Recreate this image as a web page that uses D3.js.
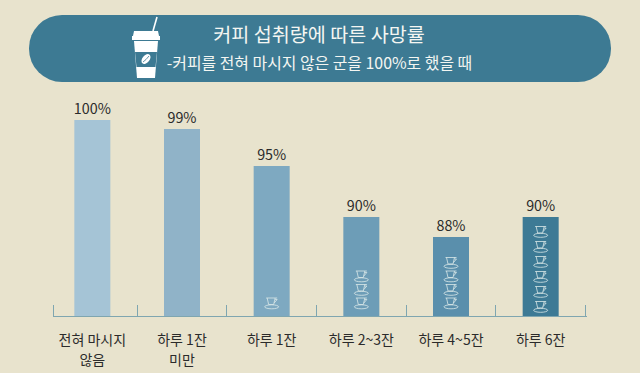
<!DOCTYPE html>
<html>

<head>
    <meta charset="UTF-8">
    <title>coffee</title>
    <script src="https://cdn.jsdelivr.net/npm/d3@7/dist/d3.min.js"></script>
</head>
<style>
    * {
        padding: 0;
        margin: 0;
    }

    body {
        background-color: #e8e3cd;
        overflow: hidden;
    }

    text {
        font-family: "Noto Sans CJK KR", "Noto Sans", sans-serif;
    }
</style>

<body>
    <div id="data-svg"></div>
</body>
<script>
    var categories = [["전혀 마시지", "않음"], ["하루 1잔", "미만"], ["하루 1잔"], ["하루 2~3잔"], ["하루 4~5잔"], ["하루 6잔"]];
    var values = [100, 99, 95, 90, 88, 90];
    var cupCounts = [0, 0, 1, 3, 4, 6];
    var barColors = ["#a5c4d6", "#90b3c8", "#7ea9c1", "#6d9db7", "#5a8fac", "#3d7a95"];
    var title = "커피 섭취량에 따른 사망률";
    var subtitle = "-커피를 전혀 마시지 않은 군을 100%로 했을 때";

    var width = 640, height = 373;

    var svg = d3.select("#data-svg")
        .append("svg")
        .attr("width", width)
        .attr("height", height)
        .style("display", "block");

    // header
    svg.append("rect")
        .attr("x", 29).attr("y", 15)
        .attr("width", 582).attr("height", 67)
        .attr("rx", 33)
        .attr("fill", "#3d7a93");

    svg.append("text")
        .attr("x", 319).attr("y", 42)
        .attr("text-anchor", "middle")
        .attr("font-size", 19.6)
        .attr("fill", "#f4f6f2")
        .text(title);

    svg.append("text")
        .attr("x", 319.5).attr("y", 69)
        .attr("text-anchor", "middle")
        .attr("font-size", 15.9)
        .attr("fill", "#f4f6f2")
        .text(subtitle);

    // take-out cup icon
    var icon = svg.append("g").attr("fill", "#fff");
    icon.append("path").attr("d", "M153 31L157 17").attr("stroke", "#fff").attr("stroke-width", 1.6);
    icon.append("path").attr("d", "M134 31H158L159 36H133Z");
    icon.append("path").attr("d", "M132 36H160V40H132Z");
    icon.append("path").attr("d", "M134 41H158L155 78H137Z");
    icon.append("path").attr("d", "M135 52H157L155.5 67H136.5Z").attr("fill", "#3d7a93");
    icon.append("ellipse")
        .attr("cx", 146).attr("cy", 59)
        .attr("rx", 3.6).attr("ry", 5.6)
        .attr("transform", "rotate(40 146 59)");
    icon.append("path").attr("d", "M143 62Q146 60 149 56")
        .attr("fill", "none").attr("stroke", "#3d7a93").attr("stroke-width", 0.8);

    // 세로값은 그림에서 읽은 그대로
    var xScale = d3.scaleBand()
        .domain(d3.range(categories.length))
        .range([47.5, 585.5]);

    var yScale = d3.scaleLinear()
        .domain([80, 88, 90, 95, 99, 100])
        .range([316, 237, 217, 166, 129, 120]);

    var barWidth = 36;

    svg.selectAll(".bar")
        .data(values)
        .enter()
        .append("rect")
        .attr("class", "bar")
        .attr("x", (d, i) => xScale(i) + xScale.bandwidth() / 2 - barWidth / 2)
        .attr("y", d => yScale(d))
        .attr("width", barWidth)
        .attr("height", d => yScale(80) - yScale(d))
        .attr("fill", (d, i) => barColors[i]);

    // axis line and ticks
    var axis = svg.append("g").attr("stroke", "#7fa6b0").attr("stroke-width", 1).attr("fill", "none");
    axis.append("line")
        .attr("x1", 53).attr("x2", 587)
        .attr("y1", 316.5).attr("y2", 316.5);
    axis.selectAll(".tick")
        .data(d3.range(categories.length + 1))
        .enter()
        .append("line")
        .attr("x1", i => i == 0 ? 53.5 : Math.round(xScale.step() * i + 47) + 0.5)
        .attr("x2", i => i == 0 ? 53.5 : Math.round(xScale.step() * i + 47) + 0.5)
        .attr("y1", 305)
        .attr("y2", 316);

    // value labels
    svg.selectAll(".value")
        .data(values)
        .enter()
        .append("text")
        .attr("class", "value")
        .attr("x", (d, i) => xScale(i) + xScale.bandwidth() / 2)
        .attr("y", d => yScale(d) - 6)
        .attr("text-anchor", "middle")
        .attr("font-size", 14.3)
        .attr("fill", "#2b2b2b")
        .text(d => d + "%");

    // category labels
    categories.forEach((lines, i) => {
        lines.forEach((line, j) => {
            svg.append("text")
                .attr("x", xScale(i) + xScale.bandwidth() / 2)
                .attr("y", 345 + j * 20)
                .attr("text-anchor", "middle")
                .attr("font-size", 14)
                .attr("fill", "#2b2b2b")
                .text(line);
        });
    });

    // small cups inside the bars
    function drawCup(g) {
        g.attr("fill", "none").attr("stroke", "#dbe8e8").attr("stroke-width", 0.8);
        g.append("path").attr("d", "M-5.5 -5H5.5");
        g.append("path").attr("d", "M-4.5 -5L-3 1.5H2L3.5 -5");
        g.append("path").attr("d", "M3.5 -3.5H5.5L2.5 0");
        g.append("ellipse").attr("cx", 0).attr("cy", 3.8).attr("rx", 7).attr("ry", 2);
    }

    cupCounts.forEach((count, i) => {
        var gap = count == 6 ? 15 : 13.5;
        var base = count == 6 ? 306.5 : 303;
        d3.range(count).forEach(k => {
            svg.append("g")
                .attr("transform", "translate(" + (xScale(i) + xScale.bandwidth() / 2) + "," + (base - k * gap) + ")")
                .call(drawCup);
        });
    });
</script>

</html>
